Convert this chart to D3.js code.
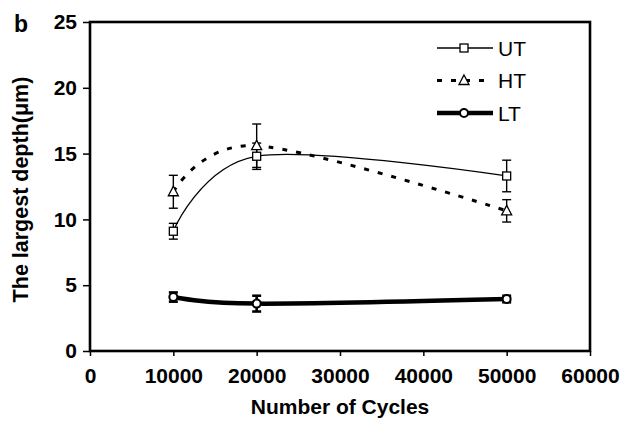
<!DOCTYPE html>
<html>
<head>
<meta charset="utf-8">
<script src="https://cdn.jsdelivr.net/npm/d3@7"></script>
<style>
  body { margin: 0; background: #fff; }
  svg { display: block; font-family: "Liberation Sans", Arial, sans-serif; }
</style>
</head>
<body>
<svg id="chart" width="625" height="421"></svg>
<script>
// data
const cycles = [10000, 20000, 50000]
const utDepth = [9.1, 14.8, 13.3]
const utErr = [0.6, 1.0, 1.2]
const htDepth = [12.1, 15.6, 10.65]
const htErr = [1.25, 1.65, 0.85]
const ltDepth = [4.1, 3.6, 3.95]
const ltErr = [0.35, 0.6, 0.25]
const xTicks = [0, 10000, 20000, 30000, 40000, 50000, 60000]
const yTicks = [0, 5, 10, 15, 20, 25]

const series = [
  { name: "UT", values: utDepth, err: utErr, marker: "square", width: 1.3, dash: null, errWidth: 1.4 },
  { name: "HT", values: htDepth, err: htErr, marker: "triangle", width: 3, dash: "5,9", errWidth: 1.4 },
  { name: "LT", values: ltDepth, err: ltErr, marker: "circle", width: 4.5, dash: null, errWidth: 2.6 },
]

const margin = { top: 22, right: 35, bottom: 70, left: 90 }
const W = 625, H = 421
const w = W - margin.left - margin.right
const h = H - margin.top - margin.bottom

const svg = d3.select("#chart")
const g = svg.append("g").attr("transform", `translate(${margin.left},${margin.top})`)

const x = d3.scaleLinear().domain([0, 60000]).range([0, w])
const y = d3.scaleLinear().domain([0, 25]).range([h, 0])

// axes
const xAxis = g.append("g")
  .attr("transform", `translate(0,${h})`)
  .call(d3.axisBottom(x).tickValues(xTicks).tickFormat(d3.format("d")).tickSize(5).tickPadding(12))
const yAxis = g.append("g")
  .call(d3.axisLeft(y).tickValues(yTicks).tickSize(7).tickPadding(6))

;[xAxis, yAxis].forEach(a => {
  a.select(".domain").remove()
  a.selectAll("line").attr("stroke", "#000").attr("stroke-width", 1.5)
  a.selectAll("text")
    .attr("fill", "#000")
    .style("font-size", "21px")
    .style("font-weight", "bold")
})

// frame
g.append("rect")
  .attr("width", w)
  .attr("height", h)
  .attr("fill", "none")
  .attr("stroke", "#000")
  .attr("stroke-width", 2.6)

// lines
const line = d3.line()
  .x((d, i) => x(cycles[i]))
  .y(d => y(d))
  .curve(d3.curveCatmullRom.alpha(0))

series.forEach(s => {
  g.append("path")
    .datum(s.values)
    .attr("d", line)
    .attr("fill", "none")
    .attr("stroke", "#000")
    .attr("stroke-width", s.width)
    .attr("stroke-dasharray", s.dash)
})

// error bars
series.forEach(s => {
  const eb = g.append("g")
  s.values.forEach((v, i) => {
    const cx = x(cycles[i])
    eb.append("line")
      .attr("x1", cx).attr("x2", cx)
      .attr("y1", y(v + s.err[i])).attr("y2", y(v - s.err[i]))
      .attr("stroke", "#000").attr("stroke-width", s.errWidth)
    ;[v + s.err[i], v - s.err[i]].forEach(e => {
      eb.append("line")
        .attr("x1", cx - 4.5).attr("x2", cx + 4.5)
        .attr("y1", y(e)).attr("y2", y(e))
        .attr("stroke", "#000").attr("stroke-width", s.errWidth)
    })
  })
})

const drawMarker = (sel, type, cx, cy) => {
  if (type === "square") {
    sel.append("rect")
      .attr("x", cx - 4).attr("y", cy - 4).attr("width", 8).attr("height", 8)
      .attr("fill", "#fff").attr("stroke", "#000").attr("stroke-width", 1.3)
  } else if (type === "triangle") {
    sel.append("path")
      .attr("d", `M${cx},${cy - 5.5}L${cx + 5},${cy + 4}L${cx - 5},${cy + 4}Z`)
      .attr("fill", "#fff").attr("stroke", "#000").attr("stroke-width", 1.3)
  } else {
    sel.append("circle")
      .attr("cx", cx).attr("cy", cy).attr("r", 4)
      .attr("fill", "#fff").attr("stroke", "#000").attr("stroke-width", 2)
  }
}

series.forEach(s => {
  const mg = g.append("g")
  s.values.forEach((v, i) => drawMarker(mg, s.marker, x(cycles[i]), y(v)))
})

// legend
const legend = svg.append("g")
series.forEach((s, i) => {
  const ly = 48 + i * 32.5
  legend.append("line")
    .attr("x1", 437).attr("x2", 493)
    .attr("y1", ly).attr("y2", ly)
    .attr("stroke", "#000")
    .attr("stroke-width", s.width)
    .attr("stroke-dasharray", s.dash)
  drawMarker(legend, s.marker, 464, ly)
  legend.append("text")
    .attr("x", 498)
    .attr("y", ly + 7.5)
    .style("font-size", "21px")
    .text(s.name)
})

// titles
svg.append("text")
  .attr("x", margin.left + w / 2)
  .attr("y", 414)
  .attr("text-anchor", "middle")
  .style("font-size", "21px")
  .style("font-weight", "bold")
  .text("Number of Cycles")

svg.append("text")
  .attr("transform", `translate(28,${margin.top + h / 2 + 3}) rotate(-90)`)
  .attr("text-anchor", "middle")
  .style("font-size", "21.5px")
  .style("font-weight", "bold")
  .text("The largest depth(μm)")

svg.append("text")
  .attr("x", 14)
  .attr("y", 32)
  .style("font-size", "23px")
  .style("font-weight", "bold")
  .text("b")
</script>
</body>
</html>
